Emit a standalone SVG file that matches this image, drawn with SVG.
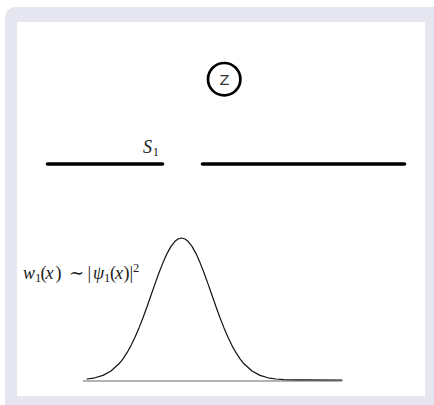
<svg xmlns="http://www.w3.org/2000/svg" width="434" height="405" viewBox="0 0 434 405">
  <style>
    .bar { stroke: #000; stroke-width: 3.6; stroke-linecap: round; fill: none; }
    .math { font-family: 'Liberation Serif', 'DejaVu Serif', serif; fill: #1a1a1a; font-size: 18px; }
    .it { font-style: italic; }
    .sub { font-size: 12.5px; }
  </style>
  <rect x="5" y="7" width="440" height="410" rx="10" fill="#e6e6f1"/>
  <rect x="17" y="22" width="408" height="374" fill="#ffffff"/>

  <g id="node-z">
    <circle cx="224.2" cy="79.2" r="16.2" fill="#fff" stroke="#000" stroke-width="2.7"/>
    <text x="224.4" y="84.6" text-anchor="middle" style="font-family: 'DejaVu Sans', sans-serif; font-size: 14.5px;" fill="#333">Z</text>
  </g>

  <g id="screen">
    <line class="bar" x1="47.5" y1="164" x2="162.5" y2="164"/>
    <line class="bar" x1="202.5" y1="164" x2="404.5" y2="164"/>
    <text class="math" y="153"><tspan class="it" x="143">S</tspan><tspan class="sub" x="152.8" y="156">1</tspan></text>
  </g>

  <g id="distribution">
    <line x1="83" y1="381" x2="342" y2="381" stroke="#9a9a9a" stroke-width="1.3"/>
    <polyline fill="none" stroke="#111" stroke-width="1.2" stroke-linejoin="round" stroke-linecap="round" points="87,379 95,377.8 103,375.4 111,371 119,363.8 123,358.8 127,352.7 131,345.6 135,337.3 139,327.9 143,317.7 147,306.7 151,295.3 155,283.9 159,272.8 163,262.6 167,253.6 171,246.4 175,241.3 178,239 181.5,238 185,239 188,241.3 192,246.4 196,253.6 200,262.6 204,272.8 208,283.9 212,295.3 216,306.7 220,317.7 224,327.9 228,337.3 232,345.6 236,352.7 240,358.8 244,363.8 252,371 260,375.4 268,377.8 276,379 284,379.6 300,379.9 342,380"/>
    <text class="math" y="279"><tspan class="it" x="23">w</tspan><tspan class="sub" x="35" y="282">1</tspan><tspan x="40.5" y="279">(</tspan><tspan class="it" x="45.5">x</tspan><tspan x="55.5">)</tspan><tspan x="69">∼</tspan><tspan x="87.5">|</tspan><tspan class="it" x="93">ψ</tspan><tspan class="sub" x="104" y="282">1</tspan><tspan x="110" y="279">(</tspan><tspan class="it" x="115">x</tspan><tspan x="123.5">)</tspan><tspan x="129.5">|</tspan><tspan class="sub" x="133" y="272">2</tspan></text>
  </g>
</svg>
